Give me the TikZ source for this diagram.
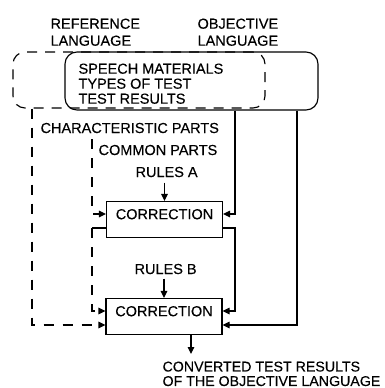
\documentclass[tikz,border=0pt]{standalone}
\usepackage{fontspec}
\setmainfont{Liberation Sans}[FakeBold=0.3,AutoFakeBold=0.3]
\usetikzlibrary{arrows.meta}
\begin{document}
\begin{tikzpicture}[x=1pt,y=-1pt,
  line width=1.15pt,
  txt/.style={inner sep=0pt, font=\fontsize{14.5}{15}\selectfont},
  arr/.style={-{Triangle[length=7pt,width=6.5pt]}},
  dashline/.style={dash pattern=on 10pt off 9pt},
  corrbox/.style={draw, minimum width=116pt, minimum height=36pt, inner sep=0pt,
    font=\fontsize{14.5}{15}\selectfont, text height=10.4pt, text depth=11pt},
  roundbox/.style={rounded corners=12pt, inner sep=0pt}
]
\useasboundingbox (0,0) rectangle (384,388);

% top boxes
\node[roundbox, draw, dash pattern=on 10pt off 8pt, minimum width=252pt, minimum height=56pt] (refbox) at (139,80) {};
\node[roundbox, draw, minimum width=253pt, minimum height=58pt] (objbox) at (191.5,81) {};

% labels
\node[txt, align=left, anchor=north west, font=\fontsize{14.5}{17}\selectfont] (reflbl) at (50,18) {REFERENCE\\LANGUAGE};
\node[txt, align=left, anchor=north west, font=\fontsize{14.5}{17}\selectfont] (objlbl) at (197,18) {OBJECTIVE\\LANGUAGE};
\node[txt, align=left, anchor=north west] (content) at (78,63) {SPEECH MATERIALS\\TYPES OF TEST\\TEST RESULTS};
\node[txt, anchor=base west] (charlbl) at (40,133) {CHARACTERISTIC PARTS};
\node[txt, anchor=base west, inner ysep=5pt] (commonlbl) at (98,155) {COMMON PARTS};
\node[txt, anchor=base west, inner ysep=5pt] (rulesA) at (135,177) {RULES A};
\node[txt, anchor=base west, inner ysep=4pt] (rulesB) at (134,274) {RULES B};
\node[txt, align=left, anchor=north west, font=\fontsize{14.2}{14.5}\selectfont] (conv) at (162,361) {CONVERTED TEST RESULTS\\OF THE OBJECTIVE LANGUAGE};

% correction boxes
\node[corrbox] (A) at (164.5,219.5) {CORRECTION};
\node[corrbox] (B) at (164,316.5) {CORRECTION};

% x positions of vertical lines
\coordinate (xl) at (32,0);
\coordinate (xc) at (92,0);
\coordinate (xr1) at (235,0);
\coordinate (xr2) at (297,0);
\coordinate (xo) at (191,0);
\coordinate (convtop) at ([yshift=7pt]conv.north);

% connectors
\draw[arr] (rulesA.south -| A.north) -- (A.north);
\draw[arr] (rulesB.south -| B.north) -- (B.north);
\draw[arr] (objbox.south -| xr1) |- ([yshift=5.5pt]A.east);
\draw[arr] (objbox.south -| xr2) |- ([yshift=-8.5pt]B.east);
\draw[arr] ([yshift=-8.5pt]A.east) -| (xr1 |- B.north) |- ([yshift=5.5pt]B.east);
\draw[dashline, arr] (commonlbl.north -| xc) |- ([yshift=5.5pt]A.west);
\draw ([yshift=-8.5pt]A.west) -- ([yshift=-8.5pt]A.west -| xc);
\draw[dashline, arr] ([yshift=-8.5pt]A.west -| xc) |- ([yshift=5.5pt]B.west);
\draw[dashline, arr] (refbox.south -| xl) |- ([yshift=-8.5pt]B.west);
\draw[arr] (B.south -| xo) -- (xo |- convtop);
\end{tikzpicture}
\end{document}
